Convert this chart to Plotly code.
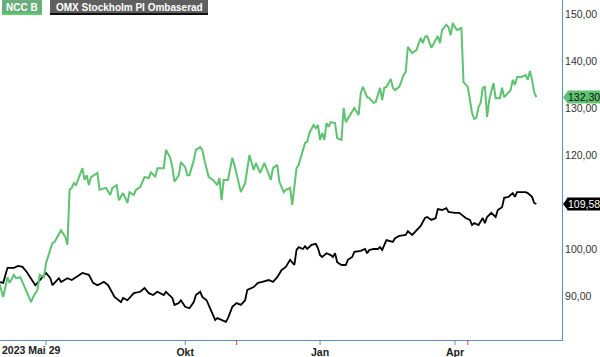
import pandas as pd
import plotly.graph_objects as go

# ---------------- data ----------------
# Stockholm exchange calendar (trading-day axis)
start_date = "2023-05-29"
end_date = "2024-05-31"
holidays = ["2023-06-06", "2023-06-23", "2023-12-25", "2023-12-26",
            "2024-01-01", "2024-03-29", "2024-04-01", "2024-05-01", "2024-05-09"]

tick_dates = ["2023-07-03", "2023-10-02", "2024-01-02", "2024-04-02"]
tick_labels = ["", "Okt", "Jan", "Apr"]
start_label = "2023 Mai 29"
event_dates = ["2023-11-03", "2024-04-10"]   # red markers on the time axis

series_names = ["NCC B", "OMX Stockholm PI Ombaserad"]

# trading day number (0 = 2023-05-29) and value
ncc_day = [1, 3, 5, 6, 8, 9, 11, 13, 16, 17, 19, 20, 22, 23, 25, 26, 27, 29, 30, 32,
           33, 34, 35, 36, 37, 40, 41, 42, 43, 44, 47, 48, 51, 53, 54, 56, 57, 59, 61, 62,
           64, 65, 67, 69, 71, 72, 74, 75, 78, 79, 81, 82, 83, 85, 86, 88, 89, 90, 92, 93,
           95, 96, 97, 99, 101, 103, 104, 105, 106, 108, 110, 111, 113, 114, 116, 118, 120, 121, 123, 125,
           128, 129, 131, 132, 134, 135, 137, 138, 140, 141, 144, 145, 146, 148, 149, 150, 151, 152, 153, 154,
           155, 156, 158, 159, 161, 162, 163, 165, 167, 169, 170, 171, 173, 174, 176, 177, 179, 180, 181, 182,
           184, 185, 186, 188, 190, 191, 192, 194, 196, 198, 199, 200, 201, 203, 205, 206, 207, 208, 210, 211,
           212, 213, 214, 215, 217, 218, 220, 221, 222, 223, 224, 225, 226, 227, 228, 229, 230, 232, 233, 235,
           236, 237, 239, 240, 241, 242, 243, 245, 247, 248, 249, 250, 251, 252]
ncc_val = [93.0, 89.8, 94.0, 92.8, 94.5, 93.8, 94.0, 91.9, 88.7, 89.8, 91.3, 94.5, 94.0, 97.0, 99.8, 101.3, 101.5, 103.4, 104.0, 102.6,
           100.9, 112.6, 113.0, 114.0, 113.6, 117.2, 114.7, 115.7, 113.6, 115.3, 116.2, 112.6, 113.0, 111.5, 113.0, 113.6, 110.4, 111.9, 109.8, 112.1,
           111.5, 112.6, 113.2, 115.3, 115.1, 116.4, 115.3, 117.2, 117.2, 121.1, 119.4, 117.4, 114.3, 115.7, 118.5, 117.4, 115.7, 115.7, 118.9, 121.1,
           121.7, 121.1, 118.9, 115.3, 114.7, 113.6, 115.1, 110.4, 114.7, 114.7, 119.4, 117.9, 114.0, 112.1, 114.0, 120.0, 116.8, 118.3, 116.2, 118.3,
           114.7, 117.2, 117.9, 114.3, 112.1, 112.6, 113.0, 109.4, 117.2, 117.9, 122.6, 122.8, 124.7, 126.4, 125.7, 126.4, 123.2, 124.7, 123.2, 126.8,
           126.0, 127.0, 126.8, 123.6, 123.2, 130.0, 127.0, 128.5, 130.0, 128.5, 133.2, 134.5, 132.3, 132.1, 131.1, 131.3, 134.3, 131.7, 134.3, 134.5,
           136.2, 134.3, 133.8, 134.5, 137.0, 137.7, 143.0, 141.7, 142.3, 144.9, 143.8, 145.1, 145.3, 142.8, 144.5, 145.3, 143.8, 146.6, 147.7, 147.2,
           145.5, 148.1, 147.2, 146.6, 147.0, 135.5, 134.5, 131.7, 128.9, 127.7, 127.9, 130.2, 131.1, 134.3, 134.5, 128.1, 131.7, 135.3, 132.1, 132.1,
           134.3, 132.3, 133.4, 133.8, 136.0, 134.9, 136.6, 136.6, 137.0, 136.0, 137.9, 136.0, 133.4, 132.3]

omx_day = [1, 3, 5, 8, 10, 12, 14, 16, 18, 19, 21, 23, 25, 26, 29, 30, 33, 35, 37, 40,
           43, 45, 47, 50, 52, 54, 55, 58, 59, 61, 64, 67, 69, 71, 73, 75, 78, 79, 82, 83,
           85, 86, 88, 90, 92, 93, 95, 96, 98, 100, 101, 102, 103, 105, 107, 108, 109, 110, 112, 114,
           116, 117, 120, 122, 124, 127, 129, 131, 133, 135, 137, 139, 140, 141, 143, 144, 145, 147, 149, 150,
           151, 152, 154, 156, 157, 158, 159, 161, 163, 164, 166, 167, 170, 172, 173, 174, 176, 178, 179, 180,
           182, 185, 186, 188, 191, 192, 194, 196, 198, 200, 201, 203, 205, 206, 208, 210, 211, 214, 216, 219,
           221, 222, 223, 225, 227, 228, 229, 231, 233, 234, 236, 237, 239, 241, 242, 243, 245, 247, 248, 250,
           251, 252]
omx_val = [93.0, 92.8, 96.0, 96.0, 96.4, 96.2, 95.1, 93.8, 92.3, 92.8, 93.8, 94.9, 93.8, 92.3, 93.8, 93.0, 93.8, 93.4, 94.0, 94.9,
           94.5, 92.8, 92.3, 93.0, 92.3, 90.6, 89.8, 88.7, 89.6, 89.1, 90.6, 90.9, 91.7, 90.6, 90.2, 90.9, 90.2, 90.9, 89.6, 88.1,
           88.5, 89.1, 87.7, 87.4, 88.7, 90.2, 90.9, 89.8, 89.1, 87.0, 86.0, 84.9, 85.3, 84.9, 84.5, 85.3, 86.4, 87.7, 88.5, 88.1,
           89.1, 91.3, 91.9, 92.8, 93.0, 93.4, 93.0, 94.0, 95.5, 96.2, 97.7, 96.6, 99.8, 100.4, 100.0, 100.6, 100.0, 100.9, 101.1, 100.2,
           98.7, 98.3, 99.1, 98.7, 98.3, 99.1, 97.2, 96.6, 96.6, 97.7, 98.3, 99.4, 99.6, 100.0, 99.1, 99.8, 100.0, 100.0, 100.4, 99.8,
           101.9, 101.5, 102.3, 102.8, 103.0, 103.8, 103.0, 104.0, 104.9, 106.6, 106.8, 106.2, 106.6, 108.5, 108.3, 108.7, 107.9, 107.7, 107.7, 106.6,
           106.2, 105.1, 105.5, 105.1, 106.6, 105.5, 106.8, 107.7, 106.8, 108.3, 108.9, 110.9, 111.1, 111.9, 111.1, 112.1, 112.1, 112.1, 111.9, 111.1,
           109.8, 109.58]

y_ticks = [90, 100, 110, 120, 130, 140, 150]

# ---------------- styling ----------------
GREEN = "#5ec270"
BLACK = "#000000"
AXIS = "#5b8fb5"
FONT = "Liberation Sans"
W, H = 600, 357
ML, MR, MT, MB = 0, 38, 0, 17
PW, PH = W - ML - MR, H - MT - MB

trading = pd.bdate_range(start_date, end_date, freq="C", holidays=holidays)
def day_of(d):
    return int(trading.get_loc(pd.Timestamp(d)))

tick_pos = [day_of(d) for d in tick_dates]
event_pos = [day_of(d) for d in event_dates]

y_range = [80.64, 152.98]
x_range = [1.5, 264.0]

fig = go.Figure()
fig.add_trace(go.Scatter(x=omx_day, y=omx_val, mode="lines", name=series_names[1],
                         line=dict(color=BLACK, width=1.8), showlegend=False))
fig.add_trace(go.Scatter(x=ncc_day, y=ncc_val, mode="lines", name=series_names[0],
                         line=dict(color=GREEN, width=2), showlegend=False))

fig.update_layout(
    width=W, height=H,
    margin=dict(l=ML, r=MR, t=MT, b=MB),
    paper_bgcolor="white", plot_bgcolor="white",
    separators=", ",
    showlegend=False,
)
fig.update_xaxes(
    range=x_range, showgrid=False, zeroline=False,
    showline=True, linecolor=AXIS, linewidth=1,
    tickvals=tick_pos, ticktext=tick_labels,
    ticks="", ticklabelstandoff=2,
    tickfont=dict(family=FONT, size=10.5, color="#222222", weight="bold"),
)
fig.update_yaxes(
    range=y_range, side="right", showgrid=False, zeroline=False,
    showline=True, linecolor=AXIS, linewidth=1,
    tickvals=y_ticks, tickformat=".2f", ticks="",
    ticklabelstandoff=0,
    tickfont=dict(family=FONT, size=10.5, color="#333333"),
)

shapes = []
# regular ticks (blue) and event markers (red) below the time axis
for p in tick_pos:
    shapes.append(dict(type="line", xref="x", yref="paper", x0=p, x1=p,
                       y0=0, y1=-5 / PH, line=dict(color=AXIS, width=1)))
for p in event_pos:
    shapes.append(dict(type="line", xref="x", yref="paper", x0=p, x1=p,
                       y0=0, y1=-5 / PH, line=dict(color="#e8413c", width=1)))

# legend boxes (pixel-sized, anchored to the top-left of the plot)
def box(x0, x1, y0, y1, color):
    return dict(type="rect", xref="paper", yref="paper", xsizemode="pixel", ysizemode="pixel",
                xanchor=0, yanchor=1, x0=x0, x1=x1, y0=-y0, y1=-y1,
                fillcolor=color, line=dict(width=0), layer="above")

shapes += [box(2, 42, 0, 13, "#6aae7c"), box(2, 42, 13, 15, "#58cf6a"),
           box(50, 208, 0, 13, "#5f5f5f"), box(50, 208, 13, 15, "#111111")]

annotations = [
    dict(text=f"<b>{series_names[0]}</b>", xref="paper", yref="paper", x=0, y=1,
         xanchor="center", yanchor="middle", xshift=22, yshift=-7, showarrow=False,
         font=dict(family=FONT, size=10, color="white")),
    dict(text=f"<b>{series_names[1]}</b>", xref="paper", yref="paper", x=0, y=1,
         xanchor="center", yanchor="middle", xshift=129, yshift=-7, showarrow=False,
         font=dict(family=FONT, size=10, color="white")),
    dict(text=f"<b>{start_label}</b>", xref="paper", yref="paper", x=0, y=0,
         xanchor="left", yanchor="top", xshift=0, yshift=-2, showarrow=False,
         font=dict(family=FONT, size=10.5, color="#222222")),
]

# last-value price tags on the right axis
def yfrac(v):
    return (v - y_range[0]) / (y_range[1] - y_range[0])

for vals, bg, fg in [(ncc_val, GREEN, "#111111"), (omx_val, BLACK, "white")]:
    v = vals[-1]
    yf = yfrac(v)
    h = 6.5 / PH
    shapes.append(dict(type="path", xref="paper", yref="paper",
                       path=f"M {1 + 1 / PW},{yf} L {1 + 6 / PW},{yf + h} L {1 + 6 / PW},{yf - h} Z",
                       fillcolor=bg, line=dict(width=0)))
    annotations.append(dict(text=f"{v:.2f}".replace(".", ","), xref="paper", yref="paper",
                            x=1, y=yf, xanchor="left", yanchor="middle", xshift=5,
                            showarrow=False, bgcolor=bg, borderpad=0,
                            font=dict(family=FONT, size=10.5, color=fg)))

fig.update_layout(shapes=shapes, annotations=annotations)
fig.write_html("out.html",
               config={"displayModeBar": False},
               post_script="document.body.style.margin='0';document.body.style.overflow='hidden';")
